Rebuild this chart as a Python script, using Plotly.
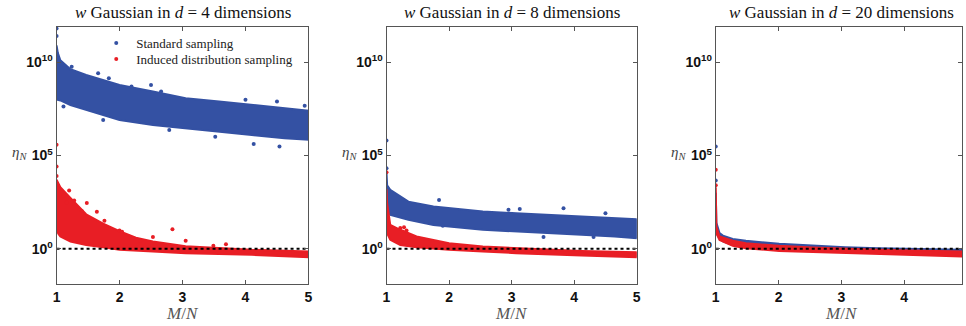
import plotly.graph_objects as go

# ---------------- data (log10 of eta_N) ----------------
BLUE = "#3451A3"
RED = "#E81E25"

# d = 4 : standard sampling cloud (upper / lower envelope)
d4_std_x = [1.0, 1.02, 1.06, 1.22, 1.47, 2.0, 2.53, 3.05, 3.58, 4.1, 4.62, 5.0]
d4_std_up = [10.9, 10.5, 10.1, 9.62, 9.32, 8.78, 8.43, 8.07, 7.89, 7.71, 7.53, 7.4]
d4_std_lo = [8.0, 7.98, 7.95, 7.7, 7.44, 6.9, 6.64, 6.46, 6.28, 6.1, 5.93, 5.84]
d4_std_out_x = [1.0, 1.0, 1.24, 1.66, 1.83, 2.19, 2.5, 2.66, 4.0, 4.5, 4.94, 1.11, 1.74, 2.79, 3.52, 4.13, 4.54]
d4_std_out_y = [11.8, 11.4, 9.76, 9.41, 9.14, 8.69, 8.78, 8.43, 7.98, 7.89, 7.66, 7.62, 6.9, 6.37, 6.01, 5.62, 5.48]

# d = 4 : induced distribution sampling cloud
d4_ind_x = [1.0, 1.03, 1.06, 1.22, 1.47, 1.74, 2.0, 2.26, 2.53, 3.05, 3.58, 4.1, 5.0]
d4_ind_up = [3.7, 3.45, 3.3, 2.73, 1.85, 1.35, 0.95, 0.6, 0.4, 0.14, 0.03, -0.05, -0.14]
d4_ind_lo = [1.0, 0.8, 0.66, 0.39, 0.21, 0.08, -0.05, -0.1, -0.14, -0.23, -0.28, -0.32, -0.45]
d4_ind_out_x = [1.0, 1.0, 1.0, 1.2, 1.11, 1.28, 1.48, 1.16, 1.4, 1.64, 1.76, 1.79, 2.0, 2.04, 2.53, 2.84, 3.05, 3.69, 3.49, 2.33]
d4_ind_out_y = [5.57, 4.41, 3.9, 3.12, 2.84, 2.59, 2.45, 2.48, 2.03, 1.98, 1.5, 1.11, 0.98, 0.91, 0.63, 1.05, 0.43, 0.25, 0.16, 0.43]

# d = 8
d8_std_x = [1.0, 1.01, 1.06, 1.35, 1.75, 2.0, 2.54, 3.07, 3.59, 4.12, 4.65, 5.0]
d8_std_up = [4.1, 3.4, 3.16, 2.53, 2.27, 2.18, 2.0, 1.91, 1.82, 1.73, 1.64, 1.59]
d8_std_lo = [1.9, 1.95, 1.82, 1.55, 1.28, 1.19, 1.02, 0.93, 0.84, 0.75, 0.66, 0.57]
d8_std_out_x = [1.0, 1.0, 1.84, 3.83, 3.13, 2.95, 4.5, 3.51, 4.31, 1.9]
d8_std_out_y = [5.8, 4.32, 2.62, 2.18, 2.14, 2.1, 1.9, 0.63, 0.63, 1.23]

d8_ind_x = [1.0, 1.01, 1.06, 1.22, 1.48, 2.0, 2.54, 3.07, 3.59, 4.12, 5.0]
d8_ind_up = [3.2, 2.45, 1.28, 1.02, 0.66, 0.3, 0.12, 0.03, -0.05, -0.11, -0.18]
d8_ind_lo = [0.9, 0.85, 0.48, 0.21, 0.09, -0.05, -0.14, -0.23, -0.3, -0.36, -0.45]
d8_ind_out_x = [1.0, 1.28, 1.32, 1.22]
d8_ind_out_y = [4.1, 1.16, 0.98, 1.11]

# d = 20
d20_std_x = [1.0, 1.01, 1.06, 1.115, 1.27, 1.48, 2.01, 2.54, 3.06, 3.59, 4.12, 4.92]
d20_std_up = [3.0, 1.4, 0.84, 0.71, 0.53, 0.43, 0.27, 0.16, 0.09, 0.03, 0.0, -0.05]
d20_std_lo = [0.9, 0.86, 0.55, 0.4, 0.2, 0.08, -0.05, -0.12, -0.18, -0.23, -0.27, -0.35]
d20_std_out_x = [1.0, 1.0]
d20_std_out_y = [5.48, 3.66]

d20_ind_x = [1.0, 1.01, 1.06, 1.27, 1.48, 2.01, 2.54, 3.06, 3.59, 4.12, 4.92]
d20_ind_up = [3.3, 1.2, 0.66, 0.43, 0.3, 0.16, 0.07, 0.0, -0.05, -0.09, -0.14]
d20_ind_lo = [0.9, 0.86, 0.48, 0.16, 0.03, -0.11, -0.17, -0.23, -0.28, -0.32, -0.41]
d20_ind_out_x = [1.0, 1.0]
d20_ind_out_y = [4.23, 3.4]

dims = [4, 8, 20]
x_spans = [[1, 5], [1, 5], [1, 4.92]]
ref_level = [1, 1]
y_tick_vals = [1, 1e5, 1e10]
y_tick_text = ["<b>10<sup>0</sup></b>", "<b>10<sup>5</sup></b>", "<b>10<sup>10</sup></b>"]
x_tick_vals = [1, 2, 3, 4, 5]
x_tick_text = ["<b>1</b>", "<b>2</b>", "<b>3</b>", "<b>4</b>", "<b>5</b>"]

# ---------------- layout geometry (screen pixels) ----------------
W, H = 966, 326
panels_px = [(53, 307), (385.7, 638), (717.7, 966)]
plot_top, plot_bot = 26.7, 284.3


def fx(px):
    return px / W


def fy(py):
    return 1 - py / H


def e(vals):
    return [10 ** v for v in vals]


SERIF = "Liberation Serif, DejaVu Serif, serif"

fig = go.Figure()

groups = [
    (d4_std_x, d4_std_up, d4_std_lo, d4_std_out_x, d4_std_out_y,
     d4_ind_x, d4_ind_up, d4_ind_lo, d4_ind_out_x, d4_ind_out_y),
    (d8_std_x, d8_std_up, d8_std_lo, d8_std_out_x, d8_std_out_y,
     d8_ind_x, d8_ind_up, d8_ind_lo, d8_ind_out_x, d8_ind_out_y),
    (d20_std_x, d20_std_up, d20_std_lo, d20_std_out_x, d20_std_out_y,
     d20_ind_x, d20_ind_up, d20_ind_lo, d20_ind_out_x, d20_ind_out_y),
]

for i, g in enumerate(groups):
    sx, su, sl, sox, soy, ix, iu, il, iox, ioy = g
    xa = "x" if i == 0 else f"x{i+1}"
    ya = "y" if i == 0 else f"y{i+1}"
    fig.add_trace(go.Scatter(x=sx + sx[::-1], y=e(su + sl[::-1]), fill="toself",
                             fillcolor=BLUE, mode="lines",
                             line=dict(color=BLUE, width=2),
                             showlegend=False, hoverinfo="skip", xaxis=xa, yaxis=ya))
    fig.add_trace(go.Scatter(x=sox, y=e(soy), mode="markers",
                             marker=dict(color=BLUE, size=4),
                             name="Standard sampling", showlegend=(i == 0),
                             legend="legend", xaxis=xa, yaxis=ya))
    fig.add_trace(go.Scatter(x=ix + ix[::-1], y=e(iu + il[::-1]), fill="toself",
                             fillcolor=RED, mode="lines",
                             line=dict(color=RED, width=2),
                             showlegend=False, hoverinfo="skip", xaxis=xa, yaxis=ya))
    fig.add_trace(go.Scatter(x=iox, y=e(ioy), mode="markers",
                             marker=dict(color=RED, size=4),
                             name="Induced distribution sampling", showlegend=(i == 0),
                             legend="legend2", xaxis=xa, yaxis=ya))
    fig.add_trace(go.Scatter(x=x_spans[i], y=ref_level, mode="lines",
                             line=dict(color="black", width=2, dash="dot"),
                             showlegend=False, hoverinfo="skip", xaxis=xa, yaxis=ya))

axis_common = dict(showline=True, linecolor="#555555", linewidth=1, mirror="ticks",
                   ticks="inside", ticklen=4, tickcolor="#555555", showgrid=False,
                   zeroline=False,
                   tickfont=dict(family="Liberation Sans, Arial, sans-serif", size=14,
                                 color="#111111"))

legend_common = dict(xanchor="left", yanchor="middle", bgcolor="rgba(0,0,0,0)",
                     itemwidth=30, borderwidth=0,
                     font=dict(family=SERIF, size=13, color="#222222"))

layout = dict(width=W, height=H, margin=dict(l=0, r=0, t=0, b=0), autosize=False,
              paper_bgcolor="white", plot_bgcolor="white",
              legend=dict(legend_common, x=fx(93), y=fy(43)),
              legend2=dict(legend_common, x=fx(93), y=fy(59)),
              annotations=[])

for i, (l, r) in enumerate(panels_px):
    xk = "xaxis" if i == 0 else f"xaxis{i+1}"
    yk = "yaxis" if i == 0 else f"yaxis{i+1}"
    ya = "y" if i == 0 else f"y{i+1}"
    xa = "x" if i == 0 else f"x{i+1}"
    layout[xk] = dict(axis_common, domain=[fx(l), min(fx(r), 1)], range=x_spans[i],
                      tickvals=x_tick_vals, ticktext=x_tick_text, anchor=ya)
    layout[yk] = dict(axis_common, domain=[fy(plot_bot), fy(plot_top)], type="log",
                      range=[-1.9, 11.9], tickvals=y_tick_vals, ticktext=y_tick_text,
                      anchor=xa)
    cx = (l + r) / 2 if i < 2 else l + 127
    layout["annotations"].append(dict(
        text=f"<i>w</i> Gaussian in <i>d</i> = {dims[i]} dimensions", x=fx(cx), y=fy(12),
        xref="paper", yref="paper", showarrow=False, xanchor="center", yanchor="middle",
        font=dict(family=SERIF, size=17, color="#111111")))
    layout["annotations"].append(dict(
        text="<i>M</i>/<i>N</i>", x=fx(cx), y=fy(313),
        xref="paper", yref="paper", showarrow=False, xanchor="center", yanchor="middle",
        font=dict(family=SERIF, size=17, color="#555555")))
    layout["annotations"].append(dict(
        text="<i>η</i><sub><i>N</i></sub>", x=fx(l - 28), y=fy(153),
        xref="paper", yref="paper", showarrow=False, xanchor="right", yanchor="middle",
        font=dict(family=SERIF, size=15, color="#444444")))

fig.update_layout(**layout)
fig.write_html("out.html", config={"displayModeBar": False},
               post_script="document.body.style.margin='0';document.body.style.overflow='hidden';")
